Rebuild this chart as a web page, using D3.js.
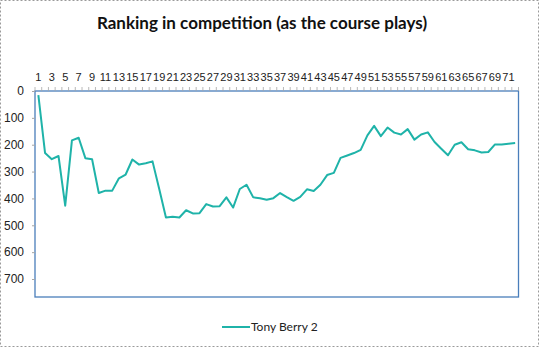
<!DOCTYPE html>
<html>
<head>
<meta charset="utf-8">
<script src="https://cdn.jsdelivr.net/npm/d3@7"></script>
<style>
  body { margin: 0; background: #fff; }
  svg { display: block; font-family: Lato, "Open Sans", sans-serif; }
</style>
</head>
<body>
<div id="chart"></div>
<script>
// Data
const holes = d3.range(1, 73);
const seriesName = "Tony Berry 2";
const ranking = [
  15, 231, 254, 242, 427, 184, 174, 250, 254, 380,
  371, 371, 325, 311, 255, 274, 269, 262, 365, 471,
  468, 471, 444, 456, 455, 421, 430, 429, 396, 434,
  365, 349, 396, 399, 405, 399, 380, 395, 409, 394,
  366, 372, 349, 313, 305, 249, 240, 231, 219, 165,
  130, 168, 136, 155, 162, 142, 181, 162, 154, 190,
  215, 239, 200, 191, 217, 221, 229, 227, 199, 199,
  196, 194
];
const yTicks = [0, 100, 200, 300, 400, 500, 600, 700];

const W = 539, H = 348;
const plot = { left: 35, right: 518.5, top: 91, bottom: 297 };

const svg = d3.select("#chart").append("svg")
    .attr("width", W)
    .attr("height", H);

// outer chart border (dashed grey)
svg.append("rect")
    .attr("x", 0.5).attr("y", 0.5)
    .attr("width", W - 1).attr("height", H - 2)
    .attr("fill", "#fff")
    .attr("stroke", "#9a9a9a")
    .attr("stroke-dasharray", "2,2");

// title
svg.append("text")
    .attr("x", 262)
    .attr("y", 29)
    .attr("text-anchor", "middle")
    .style("font-size", "17px")
    .style("font-weight", "bold")
    .attr("fill", "#111")
    .text("Ranking in competition (as the course plays)");

// scales
const x = d3.scaleBand()
    .domain(holes)
    .range([plot.left, plot.right]);

const y = d3.scaleLinear()
    .domain([0, 767])
    .range([plot.top, plot.bottom]);

// plot area border
svg.append("rect")
    .attr("x", plot.left).attr("y", plot.top)
    .attr("width", plot.right - plot.left)
    .attr("height", plot.bottom - plot.top)
    .attr("fill", "none")
    .attr("stroke", "#4a7ebb")
    .attr("stroke-width", 1.3);

// x axis on top, labels every other hole
const xAxis = svg.append("g")
    .attr("transform", `translate(0,${plot.top})`)
    .call(d3.axisTop(x)
        .tickValues(holes.filter(d => d % 2 === 1))
        .tickSize(0)
        .tickPadding(10));
xAxis.select(".domain").remove();
xAxis.selectAll("text")
    .style("font-size", "11px")
    .attr("fill", "#222");

// category boundary ticks
svg.append("g")
    .selectAll("line")
    .data(holes.concat([73]))
    .join("line")
    .attr("x1", d => d === 73 ? plot.right : x(d))
    .attr("x2", d => d === 73 ? plot.right : x(d))
    .attr("y1", plot.top - 4)
    .attr("y2", plot.top)
    .attr("stroke", "#a6a6a6")
    .attr("stroke-width", 0.8);

// y axis
const yAxis = svg.append("g")
    .attr("transform", `translate(${plot.left},0)`)
    .call(d3.axisLeft(y)
        .tickValues(yTicks)
        .tickSize(3)
        .tickPadding(8));
yAxis.select(".domain").remove();
yAxis.selectAll(".tick line").attr("stroke", "#a6a6a6");
yAxis.selectAll("text")
    .style("font-size", "12px")
    .attr("fill", "#222");

// line
const line = d3.line()
    .x((d, i) => x(holes[i]) + x.bandwidth() / 2)
    .y(d => y(d));

svg.append("path")
    .datum(ranking)
    .attr("fill", "none")
    .attr("stroke", "#1fb3a9")
    .attr("stroke-width", 2)
    .attr("stroke-linejoin", "round")
    .attr("d", line);

// legend
const legend = svg.append("g").attr("transform", "translate(222,327)");
legend.append("line")
    .attr("x1", 0).attr("x2", 28)
    .attr("stroke", "#1fb3a9")
    .attr("stroke-width", 2);
legend.append("text")
    .attr("x", 29)
    .attr("y", 4)
    .style("font-size", "12px")
    .attr("fill", "#222")
    .text(seriesName);
</script>
</body>
</html>
